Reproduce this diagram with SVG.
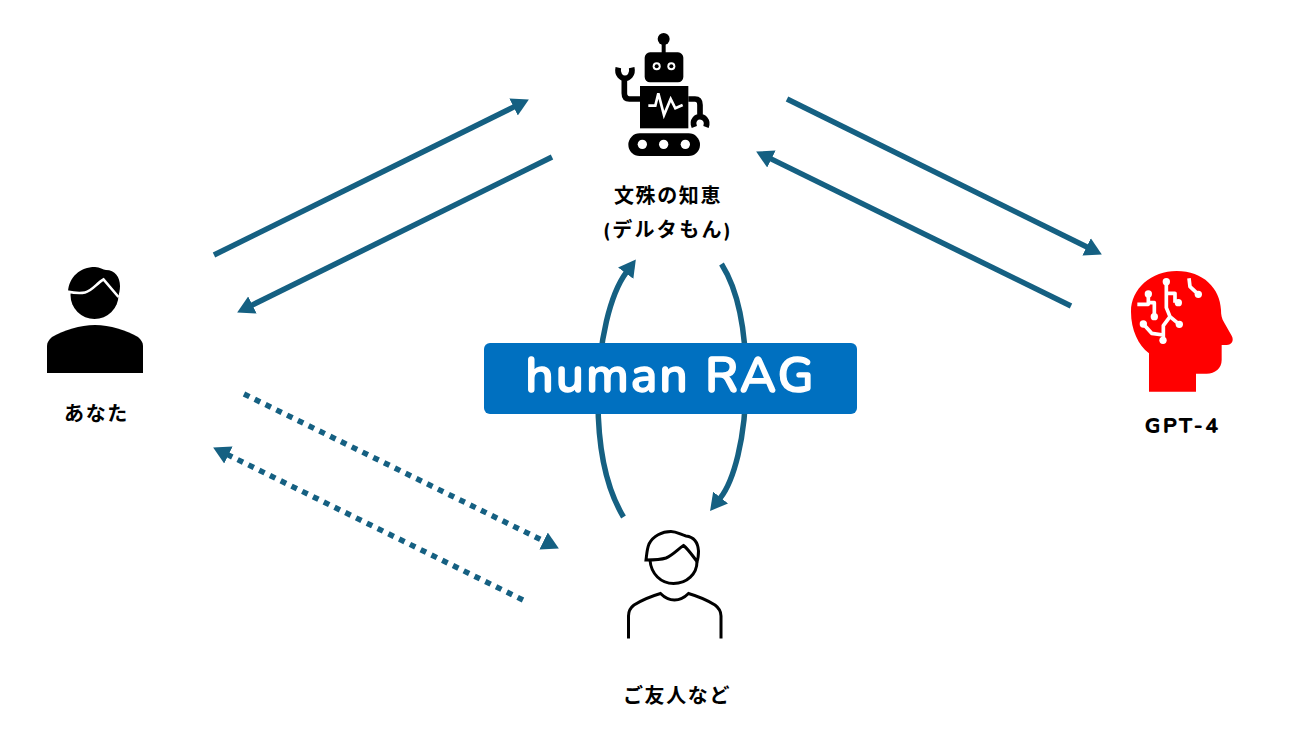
<svg xmlns="http://www.w3.org/2000/svg" width="1309" height="736" viewBox="0 0 1309 736">
<style>
.lbl{font-family:Nunito,"Noto Sans CJK JP","Noto Sans",sans-serif;font-weight:700;font-size:20px;letter-spacing:1.6px;text-anchor:middle;fill:#000}
.c{fill:none;stroke:#156082;stroke-width:5.5}
.d{stroke-dasharray:6 6}
.ah{marker-end:url(#a)}
</style>
<defs>
<marker id="a" markerUnits="userSpaceOnUse" markerWidth="20" markerHeight="20" refX="1" refY="10" orient="auto"><path d="M0 0.5L17 10L0 19.5Z" fill="#156082"/></marker>
</defs>
<rect width="1309" height="736" fill="#fff"/>
<g id="connectors">
<path class="c ah" d="M214 255L514.5 106.6"/>
<path class="c ah" d="M552 157L251.5 305.4"/>
<path class="c ah" d="M787 99L1087.5 247.3"/>
<path class="c ah" d="M1071 306L770.5 158.6"/>
<path class="c d ah" d="M244 394L544.5 541.4"/>
<path class="c d ah" d="M523 600L227.5 454.6"/>
<path class="c ah" d="M623.5 517C606 488 598 450 598 400C598 340 611 293 626.3 272.4"/>
<path class="c ah" d="M721.5 264C736 287 746 325 746 380C746 440 733 482 720 498.4"/>
</g>
<g id="human-rag">
<rect x="484" y="343" width="373" height="71" rx="6" fill="#0070c0"/>
<text x="670.5" y="392" font-family="Nunito,'Noto Sans',sans-serif" font-size="49.5" font-weight="600" letter-spacing="2" text-anchor="middle" fill="#fff" stroke="#fff" stroke-width="1.4" stroke-linejoin="round">human RAG</text>
</g>
<g id="you">
<circle cx="94.5" cy="295" r="24"/>
<path d="M68 292C69 277 80 267 95 267C100 267 103 270 106 270C115 270 120 277 120 286C120 290 119 294 118 297Z"/>
<path d="M67 291.5C74 293 80 293.5 85 292.5C92 291 97 283 103.5 279.5L118.5 297" fill="none" stroke="#fff" stroke-width="2.6"/>
<path d="M47 373V346C47 342 49 340 52 337C64 330 80 325 95 325C110 325 126 330 138 337C141 340 143 342 143 346V373Z"/>
<text class="lbl" x="96.5" y="420.5">あなた</text>
</g>
<g id="robot">
<g transform="translate(600 25) scale(.33333)">
<path d="M191 42V90" stroke="#000" stroke-width="12"/>
<circle cx="191" cy="42" r="18"/>
<rect x="134" y="82" width="116" height="90" rx="16"/>
<circle cx="170" cy="124" r="12" fill="#fff"/><circle cx="170" cy="124" r="6"/>
<circle cx="214" cy="124" r="12" fill="#fff"/><circle cx="214" cy="124" r="6"/>
<rect x="120" y="183" width="145" height="127"/>
<path d="M145 242H166L175 205L192 270L212 222L226 250L248 240" fill="none" stroke="#fff" stroke-width="8"/>
<path d="M120 222H88Q73 222 73 205V155M55 128C50 150 65 160 75 160C85 160 100 150 95 128M265 222H285Q300 222 300 240V272M283 306C274 285 290 275 300 275C310 275 326 285 318 306" fill="none" stroke="#000" stroke-width="17"/>
<rect x="85" y="325" width="215" height="68" rx="34"/>
<circle cx="127" cy="358" r="14" fill="#fff"/>
<circle cx="191" cy="358" r="14" fill="#fff"/>
<circle cx="256" cy="358" r="14" fill="#fff"/>
</g>
<text class="lbl" x="668" y="202.5">文殊の知恵</text>
<text class="lbl" x="668" y="236.5" style="letter-spacing:2.3px">(デルタもん)</text>
</g>
<g id="gpt4">
<g transform="translate(1120 265) scale(.33333)">
<path d="M87 380V265C55 240 33 195 33 140C33 70 95 18 170 18C250 18 300 70 303 135C303 150 305 160 312 172L335 212C343 226 335 240 320 240H305V285C305 310 285 326 260 326H228V380Z" fill="#f00"/>
<g fill="none" stroke="#fff" stroke-width="11" stroke-linejoin="round">
<path d="M139 50V128L150 155L178 178M139 85H165V113"/>
<path d="M150 155L130 182V226M130 210L95 205L70 177"/>
<path d="M85 87V118H52M85 113H103V155"/>
<path d="M207 40L210 65L235 88"/>
</g>
<g fill="#fff">
<circle cx="139" cy="50" r="11"/><circle cx="178" cy="178" r="11"/><circle cx="175" cy="113" r="11"/>
<circle cx="129" cy="226" r="11"/><circle cx="70" cy="177" r="11"/><circle cx="85" cy="87" r="11"/>
<circle cx="103" cy="155" r="11"/><circle cx="235" cy="88" r="11"/>
</g>
</g>
<text class="lbl" x="1182.5" y="432.5" style="font-size:21.5px;font-weight:800;letter-spacing:2.2px">GPT-4</text>
</g>
<g id="friend">
<g fill="none" stroke="#000" stroke-width="3">
<path d="M650 560C651 574 661 583.5 673.5 583.5C687 583.5 697 574 697 561.5"/>
<path d="M646 560C647 552 647 549 649 544C653 536 662 531.5 671 531.5C677 531.5 681 535 686 536C694 537 698 543 698.5 551C698.5 555 698 559 697 561.5C692 555 688 549 683.5 545.5C678 549 673 555 666 558C660 560 652 560 646 560Z"/>
<path d="M628.5 638.5V616C628.5 611 630 608 634 605C642 600 652 596 660.5 593.5C664 597 668 600 674.5 600C681 600 685 597 688.5 593.5C697 596 707 600 715 605C719 608 721 611 721 616V638.5"/>
</g>
<text class="lbl" x="677" y="702.5">ご友人など</text>
</g>
</svg>
